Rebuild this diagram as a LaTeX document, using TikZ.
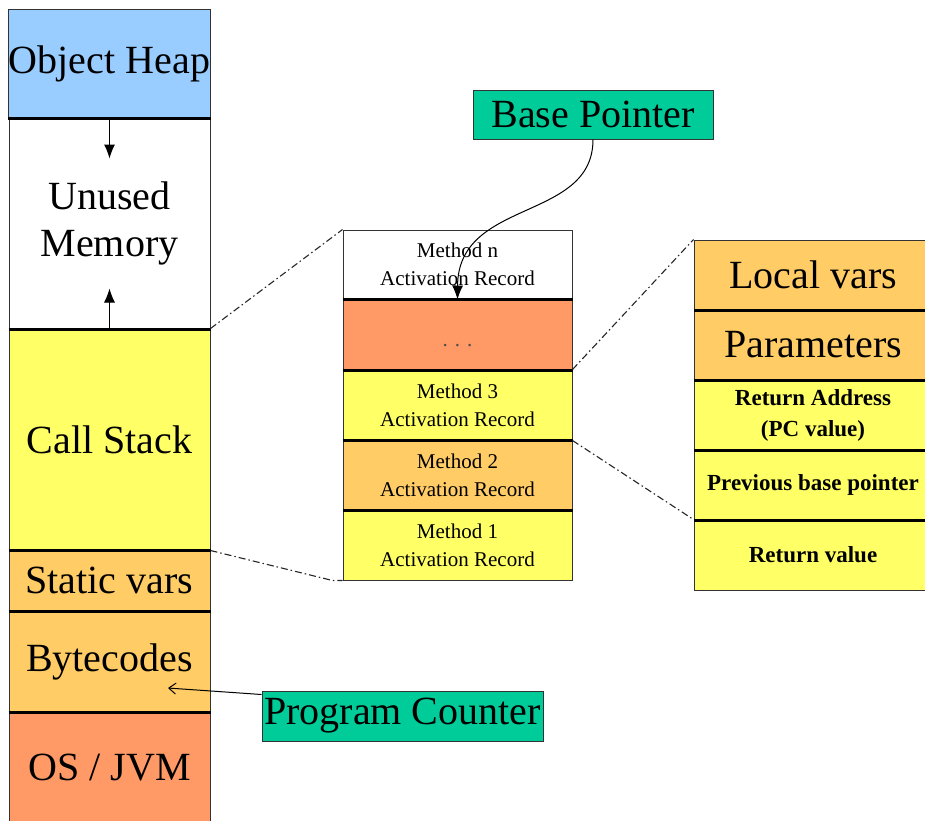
\documentclass[tikz,border=0pt]{standalone}
\usepackage{fontspec}
\setmainfont{Liberation Serif}
\usetikzlibrary{arrows.meta}
\definecolor{heapblue}{HTML}{99CCFF}
\definecolor{stackyellow}{HTML}{FFFF66}
\definecolor{lightorange}{HTML}{FFCC66}
\definecolor{darkorange}{HTML}{FF9966}
\definecolor{teal}{HTML}{00CC99}
\begin{document}
\begin{tikzpicture}[x=1pt,y=-1pt,
 blk/.style={draw=black!80, line width=1pt, inner sep=0pt, align=center, text=black},
 big/.style={font=\fontsize{40}{47}\selectfont},
 mid/.style={font=\fontsize{21}{28}\selectfont},
 rbold/.style={font=\fontsize{23}{31}\selectfont\bfseries},
 sepline/.style={line width=2.2pt, black},
 zoomline/.style={dash pattern=on 7pt off 3pt on 1.5pt off 3pt, line width=1.1pt, black!85},
 arr/.style={line width=1pt, -{Latex[length=14pt,width=11pt]}},
]
\useasboundingbox (0,0) rectangle (925,820);
\clip (0,0) rectangle (925,820);
\fill[white] (0,0) rectangle (925,820);

% left column
\node[blk, big, fill=heapblue, minimum width=201pt, minimum height=109pt] (heap) at (109.5,63.5) {Object Heap};
\node[blk, big, fill=white, minimum width=201pt, minimum height=211pt] (unused) at (109.5,223.5) {Unused\\Memory};
\node[blk, big, fill=stackyellow, minimum width=201pt, minimum height=221pt] (cs) at (109.5,439.5) {Call Stack};
\node[blk, big, fill=lightorange, minimum width=201pt, minimum height=61pt] (sv) at (109.5,580.5) {Static vars};
\node[blk, big, fill=lightorange, minimum width=201pt, minimum height=101pt] (bc) at (109.5,661.5) {Bytecodes};
\node[blk, big, fill=darkorange, minimum width=201pt, minimum height=112pt] (os) at (109.5,768) {OS / JVM};
\foreach \n in {heap,unused,cs,sv,bc}{\draw[sepline] (\n.south west) -- (\n.south east);}

\draw[arr] (heap.south) -- ++(0,40);
\draw[arr] (cs.north) -- ++(0,-40);

% middle stack
\node[blk, mid, fill=white, minimum width=229pt, minimum height=69pt] (mn) at (457.5,264.5) {Method n\\Activation Record};
\node[blk, fill=darkorange, minimum width=229pt, minimum height=71pt] (dots) at (457.5,334.5) {};
\node[mid, text=black!70, inner sep=0pt] (dotstext) at (457.5,346) {. . .};
\node[blk, mid, fill=stackyellow, minimum width=229pt, minimum height=70pt] (m3) at (457.5,405) {Method 3\\Activation Record};
\node[blk, mid, fill=lightorange, minimum width=229pt, minimum height=70pt] (m2) at (457.5,475) {Method 2\\Activation Record};
\node[blk, mid, fill=stackyellow, minimum width=229pt, minimum height=70pt] (m1) at (457.5,545) {Method 1\\Activation Record};
\foreach \n in {mn,dots,m3,m2}{\draw[sepline] (\n.south west) -- (\n.south east);}

% right record
\node[blk, big, fill=lightorange, minimum width=238pt, minimum height=70pt] (lv) at (813,275) {Local vars};
\node[blk, big, fill=lightorange, minimum width=238pt, minimum height=70pt] (pa) at (813,345) {Parameters};
\node[blk, rbold, fill=stackyellow, minimum width=238pt, minimum height=70pt] (ra) at (813,415) {Return Address\\(PC value)};
\node[blk, rbold, fill=stackyellow, minimum width=238pt, minimum height=70pt] (pb) at (813,485) {Previous base pointer};
\node[blk, rbold, fill=stackyellow, minimum width=238pt, minimum height=70pt] (rv) at (813,555) {Return value};
\foreach \n in {lv,pa,ra,pb}{\draw[sepline] (\n.south west) -- (\n.south east);}

% zoom lines
\draw[zoomline] (cs.north east) -- (mn.north west);
\draw[zoomline] (cs.south east) -- ([xshift=-10pt]m1.south west) -- (m1.south west);
\draw[zoomline] (m3.north east) -- (lv.north west);
\draw[zoomline] (m3.south east) -- (rv.north west);

% pointers
\node[blk, big, fill=teal, minimum width=240pt, minimum height=49pt] (bp) at (593,114.5) {Base Pointer};
\node[blk, big, fill=teal, minimum width=281pt, minimum height=50pt] (pc) at (402.5,716) {Program Counter};

\draw[arr] (bp.south) .. controls (593,222) and (458,198) .. (mn.south);
\coordinate (pctip) at (168,688);
\draw[line width=1pt, -{Straight Barb[length=7pt,width=11pt]}] ([yshift=-4pt]pc.north west) -- (pctip);
\end{tikzpicture}
\end{document}
